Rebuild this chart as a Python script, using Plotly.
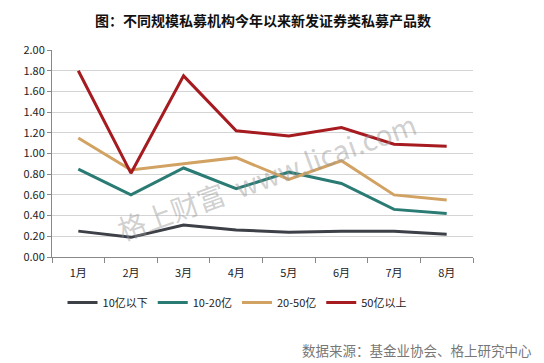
import plotly.graph_objects as go

months = ["1月", "2月", "3月", "4月", "5月", "6月", "7月", "8月"]
s_below10 = [0.25, 0.19, 0.31, 0.26, 0.24, 0.25, 0.25, 0.22]
s_10_20 = [0.85, 0.60, 0.86, 0.66, 0.82, 0.71, 0.46, 0.42]
s_20_50 = [1.15, 0.84, 0.90, 0.96, 0.75, 0.93, 0.60, 0.55]
s_above50 = [1.80, 0.81, 1.75, 1.22, 1.17, 1.25, 1.09, 1.07]
names = ["10亿以下", "10-20亿", "20-50亿", "50亿以上"]
colors = ["#3D4047", "#2A7B73", "#D2A263", "#A51B1F"]
y_ticks = [0, 0.2, 0.4, 0.6, 0.8, 1.0, 1.2, 1.4, 1.6, 1.8, 2.0]

font = "Microsoft YaHei, Noto Sans CJK SC, sans-serif"
fig = go.Figure()
for name, vals, c in zip(names, [s_below10, s_10_20, s_20_50, s_above50], colors):
    fig.add_trace(go.Scatter(x=months, y=vals, name=name, mode="lines",
                             line=dict(color=c, width=3)))

fig.update_layout(
    width=536, height=355,
    margin=dict(l=44, r=71, t=42, b=106),
    paper_bgcolor="white", plot_bgcolor="white",
    font=dict(family=font, size=11, color="#222"),
    showlegend=True,
    legend=dict(orientation="h", x=0.025, xanchor="left", y=-0.22, yanchor="middle",
                font=dict(size=11, color="#222"), itemwidth=30, traceorder="normal",
                tracegroupgap=0),
    xaxis=dict(showgrid=False, showline=True, linecolor="#888", linewidth=1,
               ticks="outside", ticklen=5, tickcolor="#888",
               tickson="boundaries", tickfont=dict(size=11, color="#222"),
               ticklabelstandoff=6, range=[-0.5, 7.5]),
    yaxis=dict(range=[0, 2.0], tickvals=y_ticks, tickformat=".2f",
               showgrid=True, gridcolor="#D4D4D4", gridwidth=1,
               showline=True, linecolor="#888", linewidth=1,
               ticks="outside", ticklen=4, tickcolor="#888",
               tickfont=dict(size=11, color="#222"), zeroline=False),
)

fig.add_annotation(text="<b>图：不同规模私募机构今年以来新发证券类私募产品数</b>",
                   xref="paper", yref="paper", x=0.5, y=1.145, borderpad=0,
                   xanchor="center", yanchor="middle", showarrow=False,
                   font=dict(size=14, color="#111", family=font))
fig.add_annotation(text="格上财富  www.licai.com", xref="paper", yref="paper",
                   x=0.51, y=0.39, showarrow=False, textangle=-20,
                   font=dict(size=28, color="rgba(150,150,150,0.45)", family=font))
fig.add_annotation(text="数据来源：基金业协会、格上研究中心", xref="paper", yref="paper",
                   x=1.145, y=-0.45, xanchor="right", yanchor="middle", showarrow=False,
                   font=dict(size=13.5, color="#777", family=font))

fig.write_html("out.html")
